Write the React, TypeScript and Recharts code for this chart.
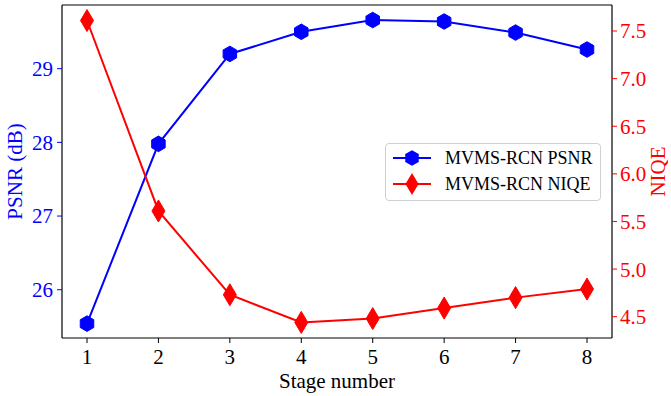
import { LineChart, Line, XAxis, YAxis, ReferenceLine } from "recharts";

const stages = [1, 2, 3, 4, 5, 6, 7, 8];
const psnr = [25.54, 27.98, 29.2, 29.5, 29.66, 29.64, 29.49, 29.26];
const niqe = [7.61, 5.61, 4.73, 4.44, 4.48, 4.59, 4.7, 4.79];
const psnrTicks = [26, 27, 28, 29];
const niqeTicks = [4.5, 5.0, 5.5, 6.0, 6.5, 7.0, 7.5];
const psnrDomain = [25.345, 29.864];
const niqeDomain = [4.276, 7.773];

const data = stages.map((s, i) => ({ stage: s, psnr: psnr[i], niqe: niqe[i] }));

const FONT = "'Liberation Serif', 'Times New Roman', serif";
const BLUE = "#0000ff";
const RED = "#ff0000";

function hexPoints(cx: number, cy: number, r: number) {
    const pts: string[] = [];
    for (let k = 0; k < 6; k++) {
        const a = ((90 + 60 * k) * Math.PI) / 180;
        pts.push(`${cx + r * Math.cos(a)},${cy - r * Math.sin(a)}`);
    }
    return pts.join(" ");
}

function diamondPoints(cx: number, cy: number, w: number, h: number) {
    return `${cx},${cy - h} ${cx + w},${cy} ${cx},${cy + h} ${cx - w},${cy}`;
}

const HexDot = (props: any) => {
    const { cx, cy, index } = props;
    if (cx == null || cy == null) return null;
    return <polygon key={`h${index}`} points={hexPoints(cx, cy, 7.8)} fill={BLUE} stroke={BLUE} strokeWidth={1} />;
};

const DiamondDot = (props: any) => {
    const { cx, cy, index } = props;
    if (cx == null || cy == null) return null;
    return <polygon key={`d${index}`} points={diamondPoints(cx, cy, 6.5, 11)} fill={RED} stroke={RED} strokeWidth={1} />;
};

// legend drawn as plain html over the chart
const LegendBox = () => {
    const rows = [
        { label: "MVMS-RCN PSNR", color: BLUE, kind: "hex" },
        { label: "MVMS-RCN NIQE", color: RED, kind: "dia" },
    ];
    return (
        <div
            style={{
                position: "absolute",
                left: 385,
                top: 143,
                width: 214,
                height: 56,
                border: "1px solid #d0d0d0",
                borderRadius: 4,
                background: "rgba(255,255,255,0.8)",
                fontFamily: FONT,
                fontSize: 18,
                color: "#000",
            }}
        >
            {rows.map((r, i) => (
                <div key={r.label} style={{ position: "absolute", left: 0, top: 1 + i * 26, height: 26, width: 214 }}>
                    <svg width={50} height={26} style={{ position: "absolute", left: 0, top: 0 }}>
                        <line x1={7} y1={13} x2={45} y2={13} stroke={r.color} strokeWidth={2} />
                        {r.kind === "hex" ? (
                            <polygon points={hexPoints(26, 13, 7.8)} fill={r.color} />
                        ) : (
                            <polygon points={diamondPoints(26, 13, 6.5, 11)} fill={r.color} />
                        )}
                    </svg>
                    <span style={{ position: "absolute", left: 59, top: 2, lineHeight: "22px", whiteSpace: "nowrap" }}>{r.label}</span>
                </div>
            ))}
        </div>
    );
};

export default function App() {
    return (
        <div style={{ position: "absolute", left: 0, top: 0, width: 671, height: 396, background: "#fff" }}>
            <LineChart width={671} height={396} data={data} margin={{ top: 5, right: 0, bottom: 0, left: 0 }}>
                <XAxis
                    dataKey="stage"
                    type="number"
                    domain={[0.65, 8.35]}
                    ticks={stages}
                    allowDataOverflow
                    height={58}
                    axisLine={{ stroke: "#000", strokeWidth: 1.2 }}
                    tickLine={{ stroke: "#000" }}
                    tickSize={5}
                    tickMargin={6}
                    tick={{ fill: "#000", fontSize: 21, fontFamily: FONT }}
                    label={{ value: "Stage number", position: "insideBottom", offset: 8, fill: "#000", fontSize: 21, fontFamily: FONT }}
                />
                <YAxis
                    yAxisId="left"
                    width={62}
                    domain={psnrDomain}
                    ticks={psnrTicks}
                    allowDataOverflow
                    axisLine={{ stroke: "#000", strokeWidth: 1.2 }}
                    tickLine={{ stroke: BLUE }}
                    tickSize={5}
                    tickMargin={4}
                    tick={{ fill: BLUE, fontSize: 21, fontFamily: FONT }}
                    label={{
                        value: "PSNR (dB)",
                        angle: -90,
                        position: "insideLeft",
                        offset: 15,
                        fill: BLUE,
                        fontSize: 21,
                        fontFamily: FONT,
                        style: { textAnchor: "middle" },
                    }}
                />
                <YAxis
                    yAxisId="right"
                    orientation="right"
                    width={59}
                    domain={niqeDomain}
                    ticks={niqeTicks}
                    allowDataOverflow
                    tickFormatter={(v: number) => v.toFixed(1)}
                    axisLine={{ stroke: "#000", strokeWidth: 1.2 }}
                    tickLine={{ stroke: RED }}
                    tickSize={5}
                    tickMargin={3}
                    tick={{ fill: RED, fontSize: 21, fontFamily: FONT }}
                    label={{
                        value: "NIQE",
                        angle: -90,
                        position: "insideRight",
                        offset: 13,
                        fill: RED,
                        fontSize: 21,
                        fontFamily: FONT,
                        style: { textAnchor: "middle" },
                    }}
                />
                <ReferenceLine yAxisId="left" y={psnrDomain[1]} stroke="#000" strokeWidth={1.2} />
                <Line
                    yAxisId="left"
                    dataKey="psnr"
                    type="linear"
                    stroke={BLUE}
                    strokeWidth={2}
                    dot={HexDot}
                    activeDot={false}
                    isAnimationActive={false}
                />
                <Line
                    yAxisId="right"
                    dataKey="niqe"
                    type="linear"
                    stroke={RED}
                    strokeWidth={2}
                    dot={DiamondDot}
                    activeDot={false}
                    isAnimationActive={false}
                />
            </LineChart>
            <LegendBox />
        </div>
    );
}
